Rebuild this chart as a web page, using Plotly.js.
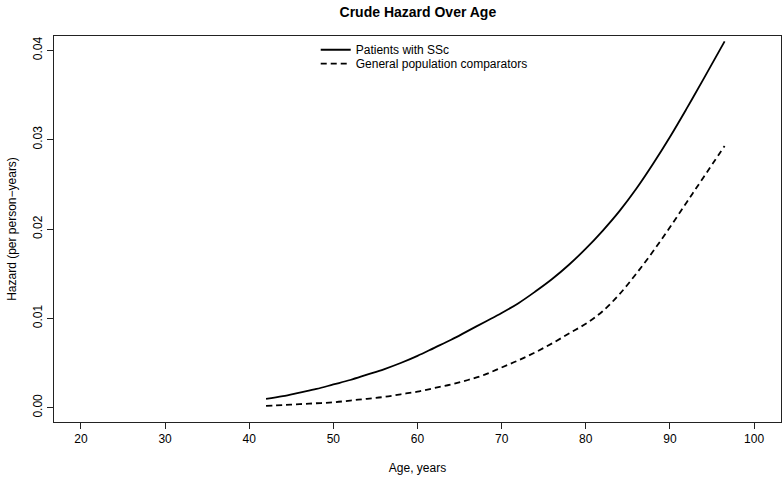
<!DOCTYPE html>
<html>
<head>
<meta charset="utf-8">
<script src="https://cdn.plot.ly/plotly-3.0.1.min.js"></script>
<style>html,body{margin:0;padding:0;background:#fff;}#chart{width:784px;height:478px;}</style>
</head>
<body>
<div id="chart"></div>
<script>
// Age (years)
const ages = [42, 44, 46, 48, 50, 52, 54, 56, 58, 60, 62, 64, 66, 68, 70, 72, 74, 76, 78, 80, 82, 84, 86, 88, 90, 92, 94, 96.5];
// Crude hazard, patients with SSc
const hazardSSc = [0.0010, 0.0013, 0.0017, 0.0021, 0.0026, 0.0031, 0.0037, 0.0043, 0.0050, 0.0058, 0.0067, 0.0076, 0.0086, 0.0096, 0.0106, 0.0117, 0.0130, 0.0144, 0.0160, 0.0178, 0.0198, 0.0220, 0.0245, 0.0273, 0.0303, 0.0335, 0.0368, 0.0410];
// Crude hazard, general population comparators
const hazardGen = [0.0002, 0.0003, 0.0004, 0.0005, 0.0006, 0.0008, 0.0010, 0.0012, 0.0015, 0.0018, 0.0022, 0.0026, 0.0031, 0.0037, 0.0045, 0.0053, 0.0062, 0.0072, 0.0083, 0.0094, 0.0108, 0.0127, 0.0150, 0.0175, 0.0202, 0.0230, 0.0258, 0.0293];
const seriesNames = ["Patients with SSc", "General population comparators"];
const xTicks = [20, 30, 40, 50, 60, 70, 80, 90, 100];
const yTicks = [0.00, 0.01, 0.02, 0.03, 0.04];
const yTickLabels = ["0.00", "0.01", "0.02", "0.03", "0.04"];

const font = "Liberation Sans, Arial, Helvetica, sans-serif";
const traces = [
  {x: ages, y: hazardSSc, name: seriesNames[0], type: "scatter", mode: "lines", legend: "legend",
   line: {color: "#000", width: 1.8, shape: "spline"}},
  {x: ages, y: hazardGen, name: seriesNames[1], type: "scatter", mode: "lines", legend: "legend2",
   line: {color: "#000", width: 1.8, dash: "6px,4px", shape: "spline"}}
];
const legendBase = {xanchor: "left", yanchor: "top", bgcolor: "rgba(0,0,0,0)",
  font: {family: font, size: 12, color: "#000"}};
const layout = {
  width: 784, height: 478,
  margin: {l: 54, r: 3, t: 36, b: 56},
  paper_bgcolor: "#fff", plot_bgcolor: "#fff",
  font: {family: font, size: 12, color: "#000"},
  title: {text: "<b>Crude Hazard Over Age</b>", x: 0.533, xanchor: "center", y: 0.985, yanchor: "top",
          font: {family: font, size: 14, color: "#000"}},
  showlegend: true,
  legend: Object.assign({x: 0.36, y: 1.002}, legendBase),
  legend2: Object.assign({x: 0.36, y: 0.966}, legendBase),
  xaxis: {range: [16.8, 103.2], tickvals: xTicks, ticktext: xTicks.map(String),
          showgrid: false, zeroline: false, showline: true, mirror: true, linecolor: "#222", linewidth: 1,
          ticks: "outside", ticklen: 6, tickcolor: "#222", tickfont: {size: 12},
          title: {text: "Age, years", standoff: 18, font: {size: 12}}},
  yaxis: {range: [-0.0016, 0.0416], tickvals: yTicks, ticktext: yTickLabels, tickangle: -90,
          showgrid: false, zeroline: false, showline: true, mirror: true, linecolor: "#222", linewidth: 1,
          ticks: "outside", ticklen: 6, tickcolor: "#222", tickfont: {size: 12},
          title: {text: "Hazard (per person\u2212years)", standoff: 12, font: {size: 12}}}
};
Plotly.newPlot("chart", traces, layout, {displayModeBar: false, staticPlot: true});
</script>
</body>
</html>
